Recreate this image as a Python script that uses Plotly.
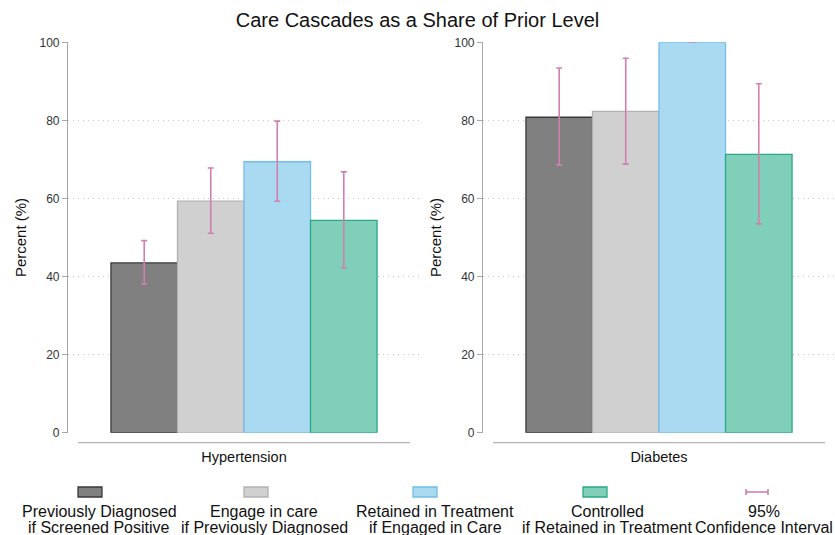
import plotly.graph_objects as go

# ---- data ----
conditions = ["Hypertension", "Diabetes"]
series_names = [
    "Previously Diagnosed<br>if Screened Positive",
    "Engage in care<br>if Previously Diagnosed",
    "Retained in Treatment<br>if Engaged in Care",
    "Controlled<br>if Retained in Treatment",
]
ci_label = "95%<br>Confidence Interval"
# values per series: [Hypertension, Diabetes]
values = [
    [43.5, 80.8],
    [59.3, 82.3],
    [69.4, 100.0],
    [54.4, 71.3],
]
ci_low = [
    [38.1, 68.6],
    [51.1, 68.8],
    [59.3, 100.0],
    [42.2, 53.5],
]
ci_high = [
    [49.2, 93.4],
    [67.8, 95.9],
    [79.8, 100.0],
    [66.8, 89.4],
]
y_ticks = [0, 20, 40, 60, 80, 100]

# ---- styles ----
fills = ["#808080", "#d0d0d0", "#aad9f2", "#80cfb8"]
edges = ["#3a3a3a", "#b2b2b2", "#72bfe8", "#2aa886"]
ci_color = "#d27fb0"
FONT = "Liberation Sans, Arial, sans-serif"

W, H = 835, 535
def px_x(p):
    return p / W
def px_y(p):
    return 1 - p / H

fig = go.Figure()

for pi, cond in enumerate(conditions):
    xa = "x" if pi == 0 else "x2"
    ya = "y" if pi == 0 else "y2"
    for si in range(len(series_names)):
        v = values[si][pi]
        fig.add_trace(go.Bar(
            x=[cond], y=[v], xaxis=xa, yaxis=ya,
            name=series_names[si].replace("<br>", " "), showlegend=False,
            marker=dict(color=fills[si], line=dict(color=edges[si], width=1.3)),
            error_y=dict(type="data", symmetric=False,
                         array=[ci_high[si][pi] - v],
                         arrayminus=[v - ci_low[si][pi]],
                         color=ci_color, thickness=1.6, width=3),
            offsetgroup=str(si),
        ))

dom1 = [px_x(68), px_x(420)]
dom2 = [px_x(483), px_x(835)]
ydom = [px_y(432.7), px_y(42.3)]

axis_common = dict(
    range=[0, 100], tickvals=y_ticks, showline=True, linecolor="#a8a8a8",
    linewidth=1.2, ticks="outside", ticklen=5, tickcolor="#a8a8a8",
    tickfont=dict(family=FONT, size=12, color="#333333"),
    showgrid=True, gridcolor="#c4c4c4", griddash="1px,4px", gridwidth=1,
    zeroline=False, domain=ydom, automargin=False,
    title=dict(text="Percent (%)", font=dict(family=FONT, size=15, color="#111111"), standoff=9),
)
xaxis_common = dict(
    showline=False, showgrid=False, ticks="", zeroline=False, automargin=False,
    tickfont=dict(family=FONT, size=14.5, color="#111111"),
    ticklabelstandoff=14,
)

fig.update_layout(
    template="none",
    width=W, height=H, autosize=False,
    margin=dict(l=0, r=0, t=0, b=0, pad=0),
    paper_bgcolor="white", plot_bgcolor="white",
    barmode="group", bargap=0.244, bargroupgap=0,
    showlegend=False,
    title=dict(text="Care Cascades as a Share of Prior Level", x=0.5, xanchor="center",
               y=px_y(20), yanchor="middle",
               font=dict(family=FONT, size=20, color="#111111")),
    xaxis=dict(domain=dom1, anchor="y", **xaxis_common),
    xaxis2=dict(domain=dom2, anchor="y2", **xaxis_common),
    yaxis=dict(anchor="x", **axis_common),
    yaxis2=dict(anchor="x2", **axis_common),
)

# x-axis baseline lines (offset below plot, Stata-style)
for xr in ["x domain", "x2 domain"]:
    fig.add_shape(type="line", xref=xr, yref="paper",
                  x0=10 / 352, x1=342 / 352, y0=px_y(442.7), y1=px_y(442.7),
                  line=dict(color="#b4b4b4", width=1.3))

# ---- manual legend (key above two-line label) ----
key_centers = [90, 256, 425, 595]
text_centers = [99, 264, 435, 607]
key_y = 492
line_ys = [511, 527]

def add_label(text, cx):
    for li, part in enumerate(text.split("<br>")):
        fig.add_annotation(text=part, xref="paper", yref="paper",
                           x=px_x(cx), y=px_y(line_ys[li]), xanchor="center", yanchor="middle",
                           showarrow=False, align="center",
                           font=dict(family=FONT, size=16, color="#111111"))

for i, name in enumerate(series_names):
    fig.add_shape(type="rect", xref="paper", yref="paper",
                  x0=px_x(key_centers[i] - 12), x1=px_x(key_centers[i] + 12),
                  y0=px_y(key_y + 5), y1=px_y(key_y - 5),
                  fillcolor=fills[i], line=dict(color=edges[i], width=1.3))
    add_label(name, text_centers[i])

# CI key
ci_cx = 757
fig.add_shape(type="line", xref="paper", yref="paper",
              x0=px_x(ci_cx - 11), x1=px_x(ci_cx + 11), y0=px_y(key_y), y1=px_y(key_y),
              line=dict(color=ci_color, width=1.6))
for dx in (-11, 11):
    fig.add_shape(type="line", xref="paper", yref="paper",
                  x0=px_x(ci_cx + dx), x1=px_x(ci_cx + dx), y0=px_y(key_y - 3), y1=px_y(key_y + 3),
                  line=dict(color=ci_color, width=1.6))
add_label(ci_label, 764)

fig.write_html("out.html", config={"displayModeBar": False},
               post_script="document.body.style.margin='0';document.body.style.overflow='hidden';")
